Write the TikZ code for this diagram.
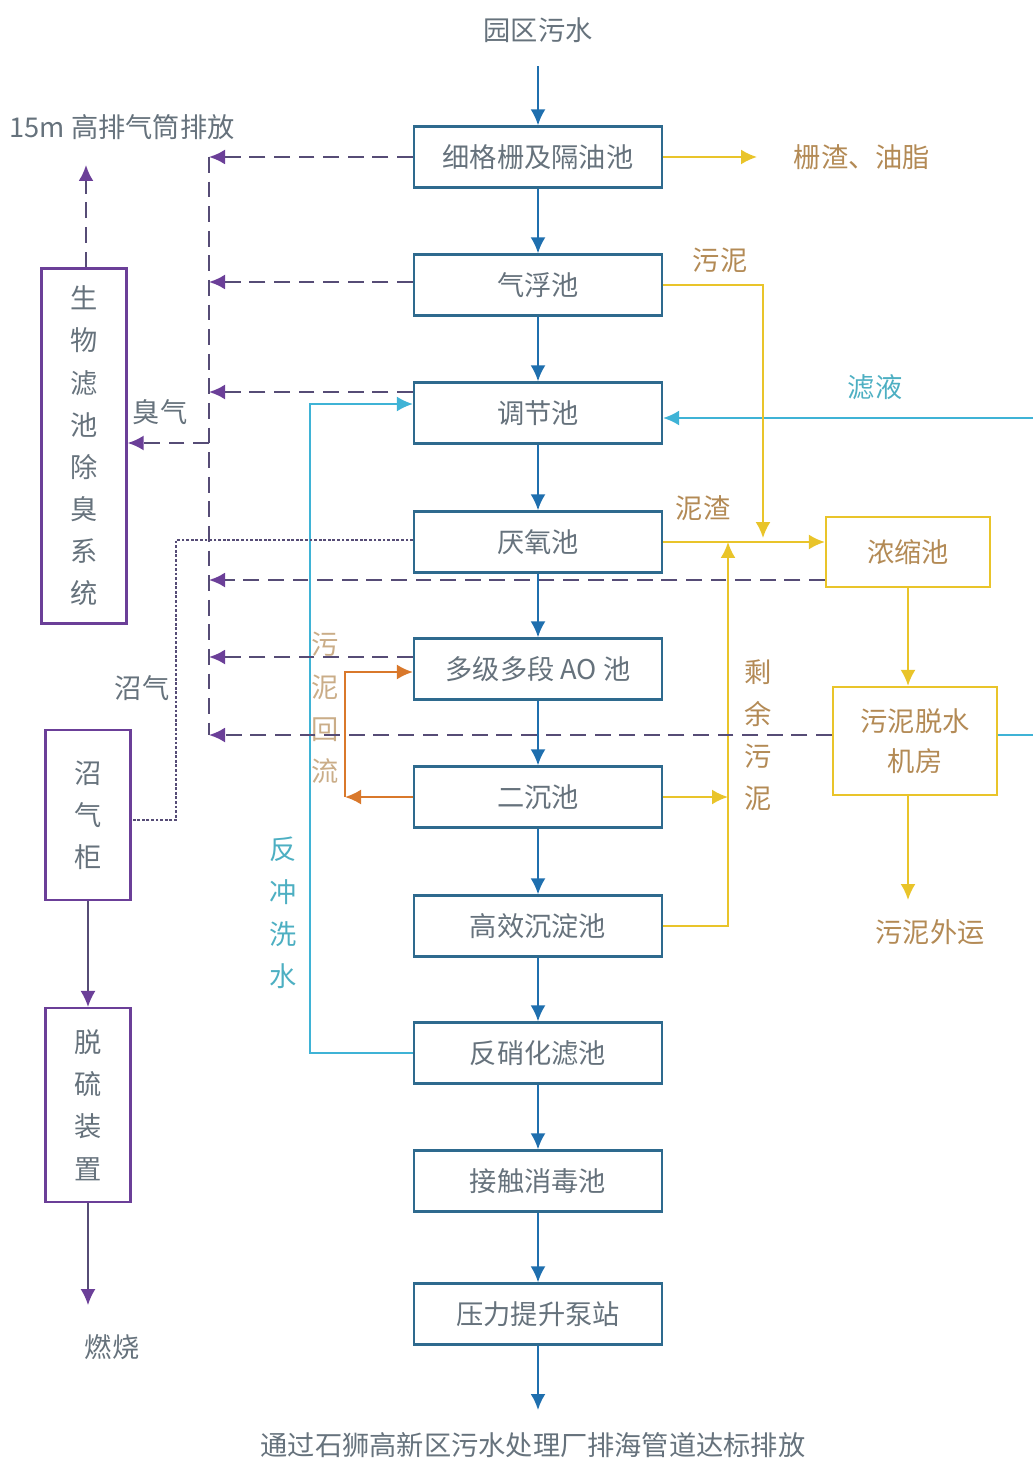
\documentclass[tikz,border=0pt]{standalone}
\usepackage{fontspec}
\setmainfont{Noto Sans CJK SC}
\usetikzlibrary{arrows.meta}

\definecolor{boxblue}{HTML}{2E6A8E}
\definecolor{flowblue}{HTML}{1F6FAE}
\definecolor{txtgray}{HTML}{66727C}
\definecolor{sludgeyel}{HTML}{E9C42A}
\definecolor{sludgetxt}{HTML}{B38A55}
\definecolor{gaspurple}{HTML}{6B3F98}
\definecolor{dashgray}{HTML}{564C76}
\definecolor{washcyan}{HTML}{3FB3D6}
\definecolor{washtxt}{HTML}{4DAFC2}
\definecolor{returnorg}{HTML}{D9782B}

\begin{document}
\begin{tikzpicture}[x=0.02cm,y=-0.02cm,
  font=\fontsize{15.5}{19}\selectfont,
  tip/.style={-{Latex[length=3.2mm,width=3mm]}},
  tank/.style={draw=boxblue,line width=1.3pt,minimum width=4.96cm,
    minimum height=1.22cm,text=txtgray},
  sludgebox/.style={draw=sludgeyel,line width=1.3pt,text=sludgetxt,
    align=center,minimum width=3.28cm,font=\fontsize{15.5}{22.7}\selectfont},
  gasbox/.style={draw=gaspurple,line width=1.3pt,text=txtgray,align=center,
    minimum width=1.7cm,font=\fontsize{15.5}{24}\selectfont},
  vlabel/.style={align=center,font=\fontsize{15.5}{24}\selectfont},
  water/.style={tip,draw=flowblue,line width=1.3pt},
  sludge/.style={tip,draw=sludgeyel,line width=1.2pt},
  fume/.style={draw=dashgray,line width=1.3pt,dash pattern=on 9pt off 5pt},
  fumetip/.style={fume,-{Latex[length=3.2mm,width=3mm,color=gaspurple]}},
  biogas/.style={draw=dashgray,line width=1.6pt,densely dotted},
  gasflow/.style={draw=dashgray,line width=0.9pt,
    -{Latex[length=3.2mm,width=3mm,color=gaspurple]}},
  wash/.style={tip,draw=washcyan,line width=1.2pt},
  ret/.style={tip,draw=returnorg,line width=1.2pt}]

\useasboundingbox (0,0) rectangle (1033,1459);

% Main line of tanks
\node[text=txtgray] (src) at (538,30) {园区污水};
\node[tank] (t1) at (538,157) {细格栅及隔油池};
\node[tank] (t2) at (538,285) {气浮池};
\node[tank] (t3) at (538,413) {调节池};
\node[tank] (t4) at (538,542) {厌氧池};
\node[tank] (t5) at (538,669) {多级多段 AO 池};
\node[tank] (t6) at (538,797) {二沉池};
\node[tank] (t7) at (538,926) {高效沉淀池};
\node[tank] (t8) at (538,1053) {反硝化滤池};
\node[tank] (t9) at (538,1181) {接触消毒池};
\node[tank] (t10) at (538,1314) {压力提升泵站};
\node[text=txtgray] (out) at (533,1445) {通过石狮高新区污水处理厂排海管道达标排放};

% Sludge side
\node[sludgebox,minimum height=1.4cm] (thick) at (908,552) {浓缩池};
\node[sludgebox,minimum height=2.16cm] (dewater) at (915,741) {污泥脱水\\机房};
\node[text=sludgetxt] (scr) at (862,157) {栅渣、油脂};
\node[text=sludgetxt] (lb1) at (720,260) {污泥};
\node[text=sludgetxt] (lb2) at (703,508) {泥渣};
\node[text=washtxt] (lb3) at (875,387) {滤液};
\node[vlabel,text=sludgetxt] (lb4) at (758,735) {剩\\余\\污\\泥};
\node[text=sludgetxt] (haul) at (930,932) {污泥外运};
\node[vlabel,text=sludgetxt!70] (lb5) at (325,708) {污\\泥\\回\\流};
\node[vlabel,text=washtxt] (lb6) at (283,913) {反\\冲\\洗\\水};

% Gas side
\node[gasbox,minimum height=7.1cm] (bio) at (84,446) {生\\物\\滤\\池\\除\\臭\\系\\统};
\node[gasbox,minimum height=3.4cm] (holder) at (88,815) {沼\\气\\柜};
\node[gasbox,minimum height=3.88cm] (desulf) at (88,1105) {脱\\硫\\装\\置};
\node[text=txtgray] (stack) at (122,127) {15m 高排气筒排放};
\node[text=txtgray] (lb7) at (160,412) {臭气};
\node[text=txtgray] (lb8) at (142,688) {沼气};
\node[text=txtgray] (burn) at (112,1347) {燃烧};

% Coordinates
\coordinate (c1) at (209,157);
\coordinate (c2) at (209,282);
\coordinate (c3) at (209,392);
\coordinate (c0) at (209,443);
\coordinate (c4) at (209,580);
\coordinate (c5) at (209,657);
\coordinate (c6) at (209,735);
\coordinate (stackEnd) at (86,165);
\coordinate (burnEnd) at (88,1305);
\coordinate (bgTop) at (176,540);
\coordinate (bgBot) at (176,820);
\coordinate (scrEnd) at (757,157);
\coordinate (floatDn) at (763,538);
\coordinate (surplus) at (728,797);
\coordinate (surplusTop) at (728,542);
\coordinate (haulEnd) at (908,900);
\coordinate (outEnd) at (538,1410);
\coordinate (bwBot) at (310,1053);
\coordinate (bwTop) at (310,404);
\coordinate (fR1) at (1045,735);
\coordinate (fR2) at (1045,418);
\coordinate (rtn) at (345,797);
\coordinate (rtnTop) at (345,672);

% Water flow
\draw[water,shorten <=0.35cm] (src) -- (t1);
\foreach \a/\b in {t1/t2,t2/t3,t3/t4,t4/t5,t5/t6,t6/t7,t7/t8,t8/t9,t9/t10}
  \draw[water] (\a) -- (\b);
\draw[water] (t10.south) -- (outEnd);

% Backwash and filtrate
\draw[wash] (t8.west) -- (bwBot) -- (bwTop) -- (bwTop -| t3.west);
\draw[wash] (fR1 -| dewater.east) -- (fR1) -- (fR2) -- (fR2 -| t3.east);

% Sludge return
\draw[ret] (t6.west) -- (rtn);
\draw[ret] (rtn) -- (rtnTop) -- (rtnTop -| t5.west);

% Sludge lines
\draw[sludge] (t1.east) -- (scrEnd);
\draw[sludge] (t2.east) -| (floatDn);
\draw[sludge] (t4.east) -- (t4.east -| thick.west);
\draw[sludge] (t6.east) -- (surplus);
\draw[sludge] (t7.east) -| (surplusTop);
\draw[sludge] (thick.south) -- (thick.south |- dewater.north);
\draw[sludge] (dewater.south -| thick.south) -- (haulEnd);

% Odour collection
\draw[fume] (c1) -- (c6);
\draw[fumetip] (t1.west) -- (c1);
\draw[fumetip] (c2 -| t2.west) -- (c2);
\draw[fumetip] (c3 -| t3.west) -- (c3);
\draw[fumetip] (c4 -| thick.west) -- (c4);
\draw[fumetip] (c5 -| t5.west) -- (c5);
\draw[fumetip] (c6 -| dewater.west) -- (c6);
\draw[fumetip] (c0) -- (c0 -| bio.east);
\draw[fumetip] (bio.north -| stackEnd) -- (stackEnd);

% Biogas
\draw[biogas] (bgTop -| t4.west) -- (bgTop) -- (bgBot) -- (bgBot -| holder.east);
\draw[gasflow] (holder) -- (desulf);
\draw[gasflow] (desulf.south) -- (burnEnd);

\end{tikzpicture}
\end{document}
